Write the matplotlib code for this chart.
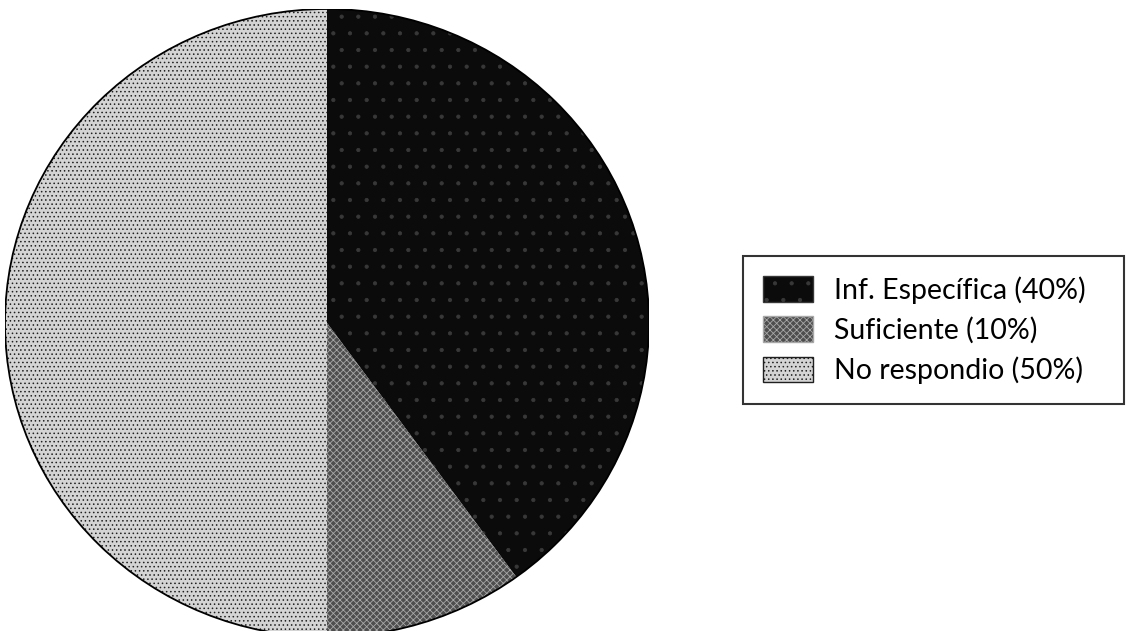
import matplotlib
matplotlib.use("Agg")
from matplotlib import pyplot as plt
from matplotlib.patches import Circle

labels = ["Inf. Específica (40%)", "Suficiente (10%)", "No respondio (50%)"]
shares = [40, 10, 50]
colors = ["#0b0b0b", "#4e4e4e", "#d4d4d4"]
hatch_cols = ["#383838", "#a8a8a8", "#202020"]
hatches = [".", "xxxxx", "...."]

plt.rcParams["hatch.linewidth"] = 0.6
plt.rcParams["font.family"] = ["Lato", "DejaVu Sans"]

W, H = 1126, 631
fig = plt.figure(figsize=(W / 100, H / 100), dpi=100)

# pie box in pixels (slightly squashed, runs just past the bottom edge)
cx, cy, rx, ry = 327, 323, 322, 314
ax = fig.add_axes([(cx - rx) / W, 1 - (cy + ry) / H, 2 * rx / W, 2 * ry / H])
wedges, _ = ax.pie(shares, colors=colors, startangle=90, counterclock=False,
                   wedgeprops=dict(linewidth=0))
for w, h, hc in zip(wedges, hatches, hatch_cols):
    w.set_hatch(h)
    w.set_edgecolor(hc)
ax.add_patch(Circle((0, 0), 1, fill=False, edgecolor="black", linewidth=1.3))
ax.set_xlim(-1, 1)
ax.set_ylim(-1, 1)
ax.set_aspect("auto")
ax.axis("off")

leg = fig.legend(wedges, labels,
                 loc="upper left",
                 bbox_to_anchor=(743 / W, 1 - 404 / H, (1124 - 743) / W, 148 / H),
                 mode="expand", fontsize=20.5, frameon=True, fancybox=False,
                 handlelength=1.75, handleheight=1.0, handletextpad=0.75,
                 labelspacing=0.45, borderpad=0.7, borderaxespad=0)
leg.get_frame().set_edgecolor("black")
leg.get_frame().set_linewidth(1.5)
for hnd in leg.legend_handles:
    hnd.set_linewidth(1.0)

fig.savefig("out.png", dpi=100)
